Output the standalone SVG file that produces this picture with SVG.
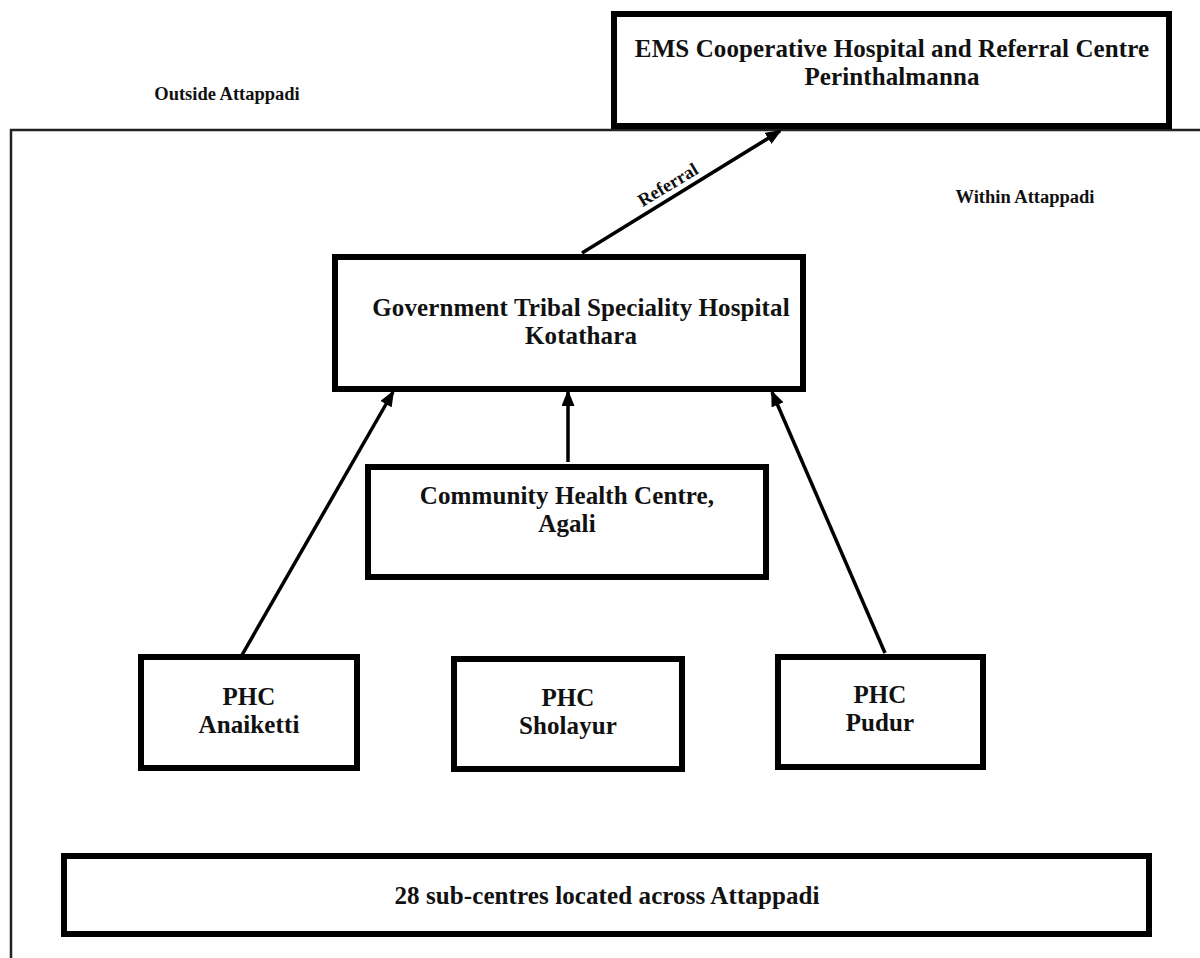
<svg xmlns="http://www.w3.org/2000/svg" width="1200" height="958" viewBox="0 0 1200 958">
<style>
.box{fill:#fff;stroke:#000;stroke-width:6}
.t{font-family:"Liberation Serif","Times New Roman",serif;font-weight:bold;fill:#111;text-anchor:middle}
.big{font-size:25px;letter-spacing:0.1px}
.sm{font-size:18.5px}
.c{stroke:#000;stroke-width:3.5;fill:none}
</style>
<defs>
<marker id="ah" markerWidth="16" markerHeight="13" refX="14" refY="6.5" orient="auto" markerUnits="userSpaceOnUse" viewBox="0 0 16 13">
<path d="M0,0 L16,6.5 L0,13 z" fill="#000"/>
</marker>
</defs>
<rect width="1200" height="958" fill="#fff"/>
<g id="frame">
<path d="M1200,130 L11,130 L11,958" fill="none" stroke="#222" stroke-width="2.5"/>
</g>
<text class="t sm" x="227" y="100">Outside Attappadi</text>
<text class="t sm" x="1025" y="203">Within Attappadi</text>
<g id="ems">
<rect class="box" x="614" y="14" width="555" height="112"/>
<text class="t big"><tspan x="892" y="57">EMS Cooperative Hospital and Referral Centre</tspan><tspan x="892" y="85">Perinthalmanna</tspan></text>
</g>
<g id="gtsh">
<rect class="box" x="335" y="257" width="468" height="132"/>
<text class="t big"><tspan x="581" y="316">Government Tribal Speciality Hospital</tspan><tspan x="581" y="344">Kotathara</tspan></text>
</g>
<g id="chc">
<rect class="box" x="368" y="467" width="398" height="110"/>
<text class="t big"><tspan x="567" y="504">Community Health Centre,</tspan><tspan x="567" y="532">Agali</tspan></text>
</g>
<g id="phc-anaiketti">
<rect class="box" x="141" y="657" width="216" height="111"/>
<text class="t big"><tspan x="249" y="705">PHC</tspan><tspan x="249" y="733">Anaiketti</tspan></text>
</g>
<g id="phc-sholayur">
<rect class="box" x="454" y="659" width="228" height="110"/>
<text class="t big"><tspan x="568" y="706">PHC</tspan><tspan x="568" y="734">Sholayur</tspan></text>
</g>
<g id="phc-pudur">
<rect class="box" x="778" y="657" width="205" height="110"/>
<text class="t big"><tspan x="880" y="703">PHC</tspan><tspan x="880" y="731">Pudur</tspan></text>
</g>
<g id="subcentres">
<rect class="box" x="64" y="856" width="1085" height="78"/>
<text class="t big" x="607" y="904">28 sub-centres located across Attappadi</text>
</g>
<g id="connectors">
<line class="c" x1="582" y1="253" x2="780" y2="131" marker-end="url(#ah)"/>
<line class="c" x1="242" y1="655" x2="393" y2="392" marker-end="url(#ah)"/>
<line class="c" x1="568" y1="462" x2="568" y2="392" marker-end="url(#ah)"/>
<line class="c" x1="885" y1="653" x2="772" y2="392" marker-end="url(#ah)"/>
<text class="t sm" transform="translate(671,190) rotate(-31)">Referral</text>
</g>
</svg>
